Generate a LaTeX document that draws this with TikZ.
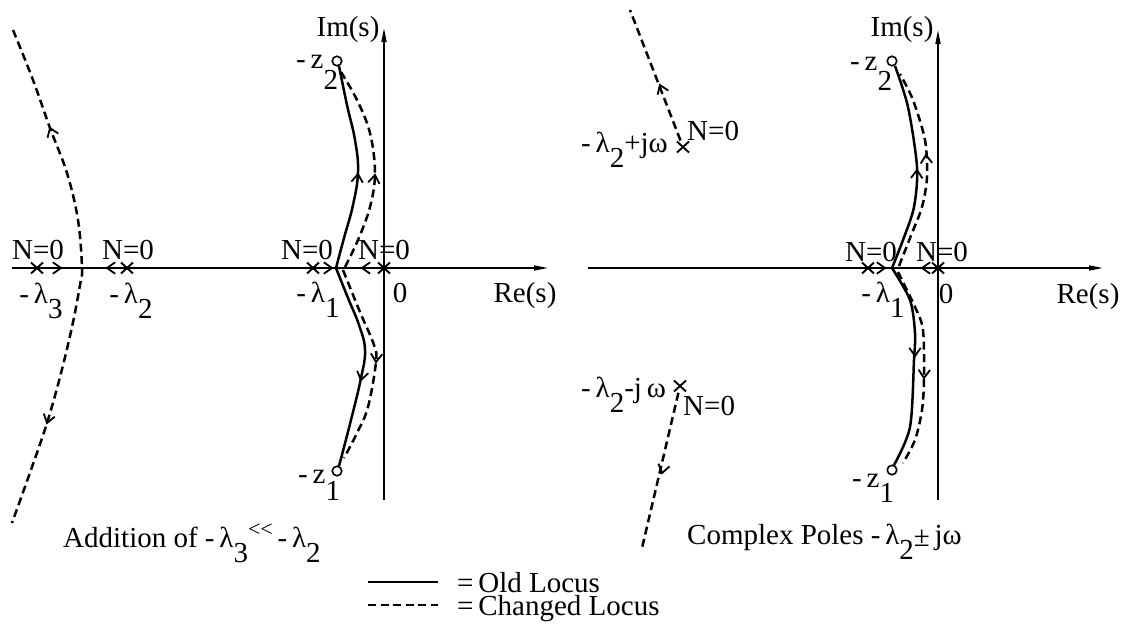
\documentclass[tikz,border=0pt]{standalone}
\usepackage{fontspec}
\setmainfont{Liberation Serif}
\usetikzlibrary{arrows.meta}
\newcommand{\lo}[1]{\raisebox{-0.55em}{#1}}
\newcommand{\chev}[2]{\draw[chevst] (#1) ++(#2+145:10) -- (#1) -- ++(#2-145:10);}
\tikzset{
  pics/pole/.style={code={\draw[line width=1.9pt] (-6,-5.5)--(6,5.5) (-6,5.5)--(6,-5.5);}},
}
\begin{document}
\begin{tikzpicture}[x=1pt,y=-1pt,
  every node/.style={font=\fontsize{29}{32}\selectfont, inner sep=0pt},
  axis/.style={line width=1.6pt,-{Triangle[length=14pt,width=5pt]}},
  old/.style={line width=2.5pt},
  new/.style={line width=2.5pt,dash pattern=on 8pt off 4.5pt},
  chevst/.style={line width=1.8pt,line join=miter},
  zero/.style={circle,draw,line width=1.6pt,minimum size=9.5pt,inner sep=0pt},
  lbl/.style={anchor=base},
  lblw/.style={anchor=base west}
]
\useasboundingbox (0,0) rectangle (1125,630);

% ---------------- left panel ----------------
\coordinate (reL0) at (12,268);
\coordinate (reL1) at (548,268);
\coordinate (imL0) at (384,500);
\coordinate (imL1) at (384,28);
\draw[axis] (reL0) -- (reL1);
\draw[axis] (imL0) -- (imL1);

\pic at (37,268) {pole};
\pic at (127,268) {pole};
\pic at (313,268) {pole};
\pic at (384,268) {pole};
\node[zero] (zL2) at (337,61) {};
\node[zero] (zL1) at (337,471) {};

% outer changed locus
\draw[new] plot[smooth,tension=0.6] coordinates {(13,30) (33,80) (50,128) (67,173) (78,220) (82,268) (80,285) (72,327) (60,377) (47,423) (32,467) (12,523)};
\chev{50,128}{-111}
\chev{47,423}{106}
\chev{61,268}{0}
\chev{107,268}{180}

% old locus
\draw[old] plot[smooth,tension=0.7] coordinates {(336,268) (344,238) (353,205) (358,172) (355,140) (347,105) (339,66)};
\draw[old] plot[smooth,tension=0.7] coordinates {(336,268) (348,298) (359,325) (365,350) (361,378) (351,420) (339,466)};
% changed locus
\draw[new] plot[smooth,tension=0.6] coordinates {(345,267) (358,240) (370,207) (375,173) (370,133) (357,100) (341,72)};
\draw[new] plot[smooth,tension=0.6] coordinates {(343,270) (360,312) (374,345) (376,362) (368,407) (357,433) (344,458)};
\chev{358,174}{-84}
\chev{375,175}{-82}
\chev{361,380}{102}
\chev{376,362}{94}
\chev{332,268}{0}
\chev{362,268}{180}

\node[lbl] (imLlab) at (348,36) {Im(s)};
\node[lblw] (z2Llab) at (296,68) {-\,z\raisebox{-0.75em}{2}};
\node[lblw] (z1Llab) at (298,483) {-\,z\raisebox{-0.6em}{1}};
\node[lbl] (n1) at (38,259) {N=0};
\node[lbl] (n2) at (128,259) {N=0};
\node[lbl] (n3) at (307,259) {N=0};
\node[lbl] (n4) at (384,259) {N=0};
\node[lbl] (l3) at (41,303) {-\,λ\lo{3}};
\node[lbl] (l2) at (131,303) {-\,λ\lo{2}};
\node[lbl] (l1) at (318,302) {-\,λ\lo{1}};
\node[lbl] (zeroL) at (400,302) {0};
\node[lbl] (reLlab) at (525,302) {Re(s)};
\node[lblw] (capL) at (63,547) {Addition of -\,λ\lo{3}\raisebox{0.35em}{\fontsize{22}{22}\selectfont<{}<}\,-\,λ\lo{2}};

% ---------------- right panel ----------------
\coordinate (reR0) at (588,268);
\coordinate (reR1) at (1103,268);
\coordinate (imR0) at (938,500);
\coordinate (imR1) at (938,30);
\draw[axis] (reR0) -- (reR1);
\draw[axis] (imR0) -- (imR1);

\pic at (868,268) {pole};
\pic at (938,268) {pole};
\node[zero] (zR2) at (892,61) {};
\node[zero] (zR1) at (892,470) {};

\draw[old] plot[smooth,tension=0.5] coordinates {(892,268) (903,240) (914,207) (917,167) (908,107) (895,66)};
\draw[old] plot[smooth,tension=0.5] coordinates {(892,268) (910,300) (915,333) (914,360) (910,427) (894,465)};
\draw[new] plot[smooth,tension=0.5] coordinates {(899,266) (912,233) (922,207) (927,177) (925,140) (913,100) (900,74)};
\draw[new] plot[smooth,tension=0.5] coordinates {(898,272) (915,307) (923,330) (924,378) (922,410) (915,440) (903,463)};
\chev{917,170}{-88}
\chev{926,155}{-93}
\chev{915,356}{90}
\chev{924,378}{92}
\chev{885,268}{0}
\chev{922,268}{180}

% complex poles
\coordinate (Pp) at (683,147);
\coordinate (Pm) at (680,386);
\coordinate (Ppend) at (630,10);
\coordinate (Pmend) at (642,548);
\pic at (Pp) {pole};
\pic at (Pm) {pole};
\draw[new,shorten <=7pt] (Pp) -- (Ppend);
\draw[new,shorten <=7pt] (Pm) -- (Pmend);
\chev{660,85}{-111}
\chev{662,473}{104}

\node[lbl] (imRlab) at (902,36) {Im(s)};
\node[lblw] (z2Rlab) at (850,70) {-\,z\raisebox{-0.7em}{2}};
\node[lblw] (z1Rlab) at (852,487) {-\,z\raisebox{-0.55em}{1}};
\node[lbl] (n5) at (871,261) {N=0};
\node[lbl] (n6) at (942,261) {N=0};
\node[lbl] (l1R) at (883,302) {-\,λ\lo{1}};
\node[lbl] (zeroR) at (946,303) {0};
\node[lbl] (reRlab) at (1088,303) {Re(s)};
\node[lblw] (ppl) at (581,152) {-\,λ\lo{2}+jω};
\node[lblw] (ppn) at (687,140) {N=0};
\node[lblw] (pml) at (581,397) {-\,λ\lo{2}-j\,ω};
\node[lblw] (pmn) at (683,415) {N=0};
\node[lblw] (capR) at (687,544) {Complex Poles -\,λ\lo{2}\raisebox{-0.1em}{±}\,jω};

% ---------------- legend ----------------
\coordinate (lg1a) at (368,582);
\coordinate (lg1b) at (438,582);
\coordinate (lg2a) at (368,605);
\coordinate (lg2b) at (438,605);
\draw[line width=1.8pt] (lg1a) -- (lg1b);
\draw[line width=1.8pt,dash pattern=on 8pt off 4.5pt] (lg2a) -- (lg2b);
\node[lblw] (lgt1) at (457,592) {=\,Old Locus};
\node[lblw] (lgt2) at (457,615) {=\,Changed Locus};
\end{tikzpicture}
\end{document}
